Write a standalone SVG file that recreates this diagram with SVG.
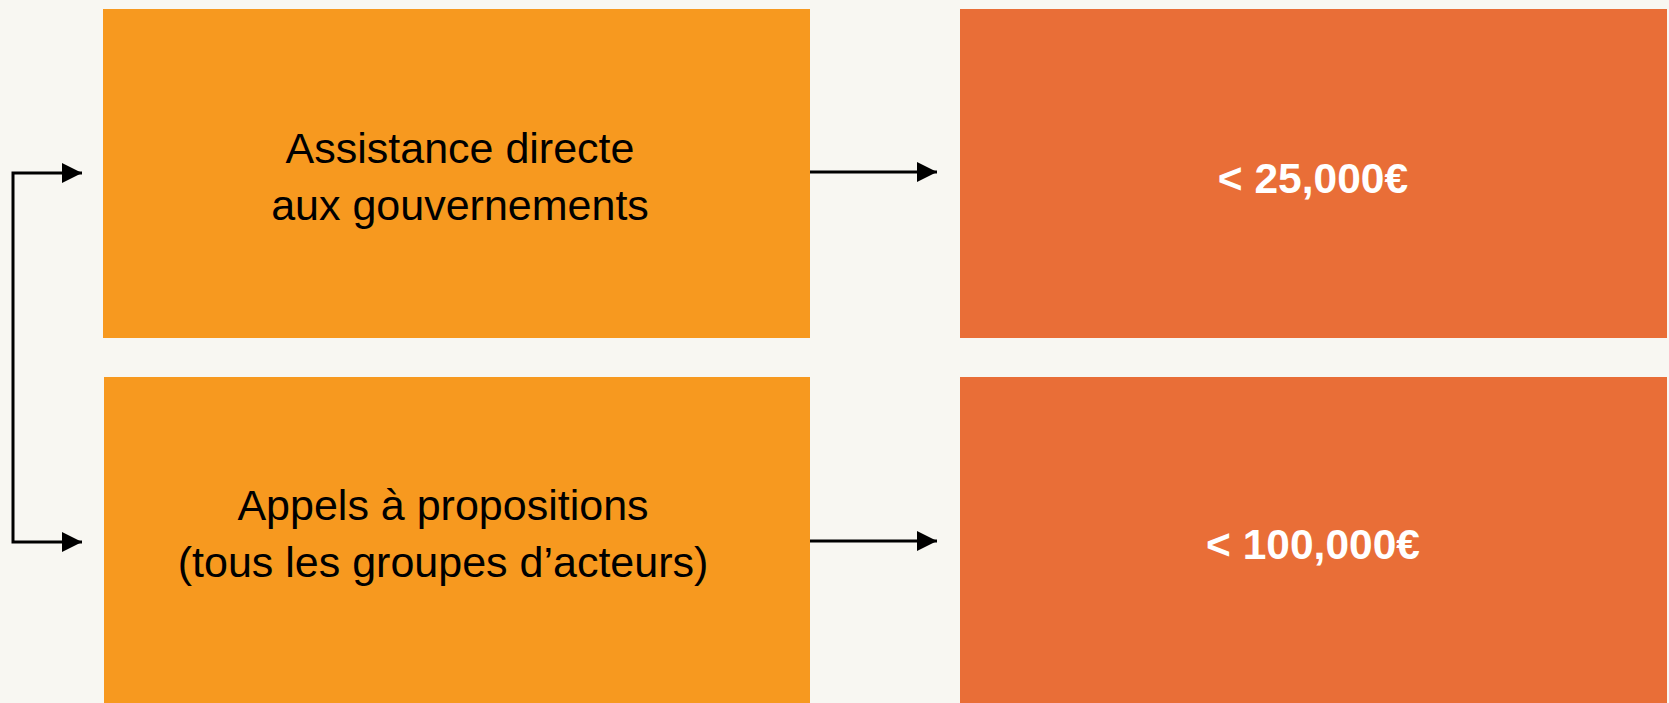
<svg xmlns="http://www.w3.org/2000/svg" width="1669" height="703" viewBox="0 0 1669 703">
  <style>
    .lbox { fill: #F7991F; }
    .rbox { fill: #E96E37; }
    .ltxt { font-family: "Liberation Sans", Arial, sans-serif; font-size: 43px; fill: #000000; text-anchor: middle; }
    .rtxt { font-family: "Liberation Sans", Arial, sans-serif; font-size: 42.5px; font-weight: bold; fill: #FFFFFF; text-anchor: middle; }
    .conn { fill: none; stroke: #000000; stroke-width: 3; }
  </style>
  <defs>
    <marker id="arrow" markerUnits="userSpaceOnUse" markerWidth="21" markerHeight="21" viewBox="0 0 21 21" refX="20" refY="10.5" orient="auto-start-reverse">
      <path d="M0,0.5 L20,10.5 L0,20.5 Z" fill="#000000"/>
    </marker>
  </defs>
  <rect x="0" y="0" width="1669" height="703" fill="#F8F7F2"/>

  <g id="node-assistance">
    <rect class="lbox" x="103" y="9" width="707" height="329"/>
    <text class="ltxt" x="460" y="163">Assistance directe</text>
    <text class="ltxt" x="460" y="220">aux gouvernements</text>
  </g>
  <g id="node-25000">
    <rect class="rbox" x="960" y="9" width="707" height="329"/>
    <text class="rtxt" x="1313" y="193">&lt; 25,000€</text>
  </g>
  <g id="node-appels">
    <rect class="lbox" x="104" y="377" width="706" height="326"/>
    <text class="ltxt" x="443" y="520">Appels à propositions</text>
    <text class="ltxt" x="443" y="577">(tous les groupes d’acteurs)</text>
  </g>
  <g id="node-100000">
    <rect class="rbox" x="960" y="377" width="707" height="326"/>
    <text class="rtxt" x="1313" y="559">&lt; 100,000€</text>
  </g>

  <g id="connectors">
    <path class="conn" d="M82,173 H13 V542 H82" marker-start="url(#arrow)" marker-end="url(#arrow)"/>
    <path class="conn" d="M810,172 H937" marker-end="url(#arrow)"/>
    <path class="conn" d="M810,541 H937" marker-end="url(#arrow)"/>
  </g>
</svg>
